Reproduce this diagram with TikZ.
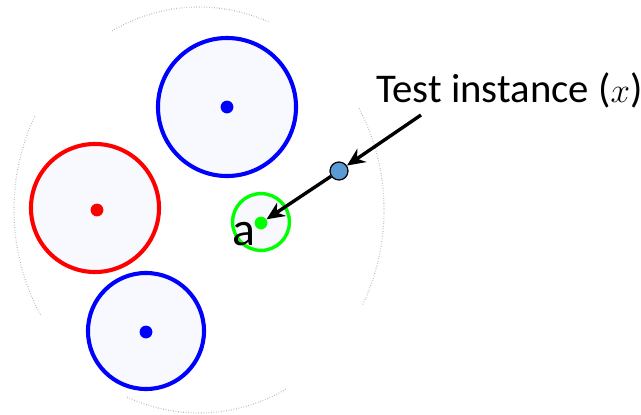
\documentclass[tikz,border=0pt]{standalone}
\usepackage{fontspec}
\setmainfont{Carlito}
\usetikzlibrary{arrows.meta}
\definecolor{clusterFill}{RGB}{248,249,254}
\definecolor{testColor}{RGB}{91,155,213}
\tikzset{
    cluster/.style={
        circle,
        draw,
        line width=2.9pt,
        fill=clusterFill,
        inner sep=0pt
    },
    centre/.style={
        circle,
        fill,
        inner sep=0pt,
        minimum size=0.32cm
    },
    ptr/.style={
        -{Stealth[length=0.45cm, width=0.4cm]},
        line width=2.4pt
    },
    region/.style={
        gray!70,
        line width=0.8pt,
        dash pattern=on 0.4pt off 1.4pt
    },
    bigtext/.style={
        anchor=base west,
        inner sep=0pt,
        font=\fontsize{29}{33}\selectfont
    }
}

\begin{document}
\begin{tikzpicture}[x=0.025cm, y=-0.025cm]
    \useasboundingbox (0,0) rectangle (641,415);

    % dotted outline of the region
    \draw[region] (199,210) ++(-118:185 and 203) arc[start angle=-118, end angle=-68, x radius=185, y radius=203];
    \draw[region] (199,210) ++(-30:185 and 203) arc[start angle=-30, end angle=28, x radius=185, y radius=203];
    \draw[region] (199,210) ++(62:185 and 203) arc[start angle=62, end angle=113, x radius=185, y radius=203];
    \draw[region] (199,210) ++(149:185 and 203) arc[start angle=149, end angle=208, x radius=185, y radius=203];

    % clusters
    \node[cluster, draw=blue, minimum size=3.45cm] (blueA) at (227,107) {};
    \node[centre, blue] (blueAc) at (blueA) {};
    \node[cluster, draw=red, minimum size=3.2cm] (redA) at (95,208) {};
    \node[centre, red] (redAc) at (97,210) {};
    \node[cluster, draw=blue, minimum size=2.9cm] (blueB) at (146,331) {};
    \node[centre, blue] (blueBc) at (146,332) {};
    \node[cluster, draw=green, line width=2.4pt, minimum size=1.42cm] (greenA) at (261,222) {};
    \node[centre, green] (greenAc) at (261,223) {};

    % test point
    \node[circle, draw, fill=testColor, line width=0.9pt, inner sep=0pt, minimum size=0.45cm] (test) at (339,171) {};

    \node[bigtext] (label) at (376,102) {Test instance ($x$)};
    \node[bigtext, font=\fontsize{34}{38}\selectfont] (nameA) at (232,245) {a};

    \coordinate (tail) at (421,115);
    \draw[ptr] (tail) -- (test);
    \draw[ptr] (test) -- (greenAc);
\end{tikzpicture}
\end{document}
